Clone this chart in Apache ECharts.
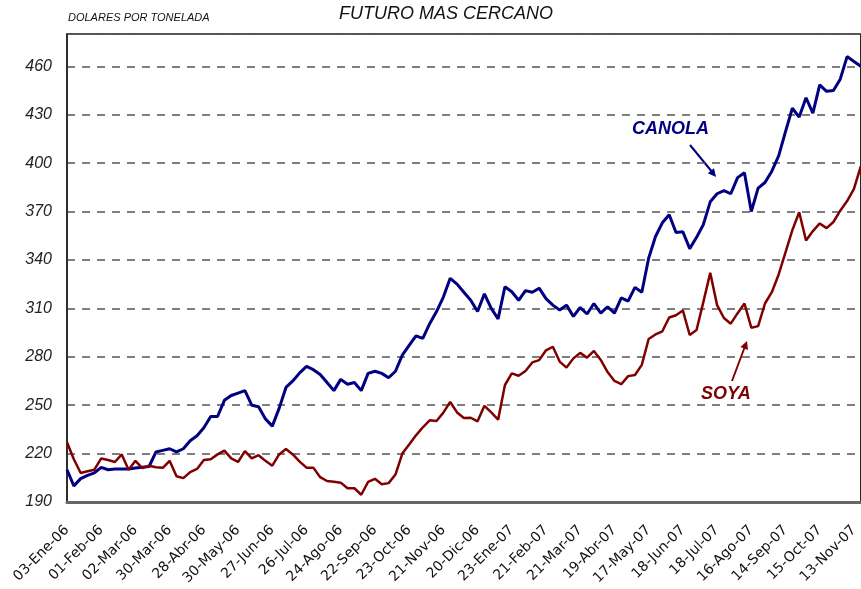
<!DOCTYPE html>
<html>
<head>
<meta charset="utf-8">
<script src="https://cdn.jsdelivr.net/npm/echarts@6/dist/echarts.min.js"></script>
<style>html,body{margin:0;padding:0;background:#fff}#c{width:861px;height:589px}</style>
</head>
<body>
<div id="c"></div>
<script>
// Tick labels, one every 20 trading days (5 points of 4 trading days)
const tickLabels = ['03-Ene-06','01-Feb-06','02-Mar-06','30-Mar-06','28-Abr-06','30-May-06','27-Jun-06','26-Jul-06','24-Ago-06','22-Sep-06','23-Oct-06','21-Nov-06','20-Dic-06','23-Ene-07','21-Feb-07','21-Mar-07','19-Abr-07','17-May-07','18-Jun-07','18-Jul-07','16-Ago-07','14-Sep-07','15-Oct-07','13-Nov-07'];
const pointsPerLabel = 5;

// Nearest futures, USD per tonne, sampled every 4 trading days
const canola = [210,200,204.5,206.5,208,211.5,210,210.5,210.5,210.5,
  211,211.5,212,221,222,223,221,223,228,231,
  236,243,243,253,256,257.5,259,250,249,241.5,
  237,248,261,265,270,274,272,269,264,259,
  266,263,264,259,269.7,271,269.7,267,271,281,
  287,293,291.4,300.5,308,317,328.6,325,320,315,
  308,319,310,303.5,323.4,320.3,315,321,320,322.5,
  316,312,309,312,305,310.5,306.5,313,307,311,
  307,316.5,314.5,323,320,341,354.5,363,368,357,
  357.5,347,354,362,376,381,383,381,391,394,
  370,384.5,388,395,404.5,419.5,434,428.5,440.5,431,
  448.5,444.5,445,452,466,463,460];

const soya = [227,216.5,208,209,210,217,216,214.8,219.5,210,
  215.5,211,212.5,211.5,211.2,215.5,206,204.8,208.5,210.5,
  216,216.5,219.5,221.8,217,214.8,221.5,217,219,215.5,
  212.5,219.5,222.8,219.5,215,211.3,211.3,205.4,203,202.5,
  202,198.5,198.5,194.5,202.4,204.4,201,201.7,207,220,
  225.6,231.3,236.3,240.6,240.2,245.4,252,245.5,242,242.2,
  240,249.6,245.5,241,262.5,269.7,268.2,271.2,276.5,277.9,
  284,286.2,277,273.3,279,282.4,279.4,283.6,278,270.5,
  265,263,268,268.7,275,291,293.8,295.8,304.3,305.7,
  308.7,293.5,296.6,314,332,312,304,300.5,307,313,
  298,299,313,320,331,344.7,358.5,369.5,352,357.9,
  362.6,359.7,363.5,370.5,376.5,384,398];

const categories = canola.map((_, i) => String(i));

const chart = echarts.init(document.getElementById('c'), null, {renderer: 'canvas'});
const FONT = '"Liberation Sans", Arial, sans-serif';

chart.setOption({
  animation: false,
  backgroundColor: '#fff',
  title: {
    text: 'FUTURO MAS CERCANO',
    left: 334, top: 0,
    textStyle: {fontFamily: FONT, fontSize: 18, fontStyle: 'italic', fontWeight: 'normal', color: '#111'}
  },
  grid: {left: 67, right: -1, top: 34, bottom: 87, show: true, borderColor: '#222', borderWidth: 1.5, backgroundColor: 'transparent'},
  xAxis: {
    type: 'category',
    data: categories,
    boundaryGap: false,
    axisTick: {show: false},
    axisLine: {lineStyle: {color: '#666', width: 3}},
    axisLabel: {
      interval: pointsPerLabel - 1,
      rotate: 45,
      margin: 26,
      fontFamily: '"DejaVu Sans", sans-serif',
      fontSize: 14,
      color: '#111',
      formatter: (v, idx) => (idx % pointsPerLabel === 0 ? tickLabels[idx / pointsPerLabel] : '')
    },
    splitLine: {show: false}
  },
  yAxis: {
    type: 'value',
    min: 190, max: 480, interval: 30,
    axisLine: {show: true, lineStyle: {color: '#222', width: 1.5}},
    axisTick: {show: false},
    axisLabel: {
      showMaxLabel: false,
      margin: 15,
      fontFamily: FONT, fontSize: 16, fontStyle: 'italic', color: '#222'
    },
    splitLine: {show: true, lineStyle: {color: '#555', width: 1.5, type: [8, 7]}}
  },
  series: [
    {name: 'CANOLA', type: 'line', data: canola, showSymbol: false, symbol: 'none',
      lineStyle: {color: '#000080', width: 3}, itemStyle: {color: '#000080'}},
    {name: 'SOYA', type: 'line', data: soya, showSymbol: false, symbol: 'none',
      lineStyle: {color: '#800000', width: 2.5}, itemStyle: {color: '#800000'}}
  ],
  graphic: [
    {type: 'text', left: 68, top: 12, style: {text: 'DOLARES POR TONELADA', font: 'italic 11px ' + FONT, fill: '#111'}},
    {type: 'text', left: 632, top: 120, style: {text: 'CANOLA', font: 'italic bold 18px ' + FONT, fill: '#000080'}},
    {type: 'line', shape: {x1: 690, y1: 145, x2: 713, y2: 173}, style: {stroke: '#000080', lineWidth: 2}},
    {type: 'polygon', shape: {points: [[716, 177], [707.8, 173.3], [714, 168.3]]}, style: {fill: '#000080'}},
    {type: 'text', left: 701, top: 385, style: {text: 'SOYA', font: 'italic bold 18px ' + FONT, fill: '#800000'}},
    {type: 'line', shape: {x1: 732, y1: 381, x2: 745.5, y2: 345}, style: {stroke: '#800000', lineWidth: 2}},
    {type: 'polygon', shape: {points: [[747, 341], [748, 350], [740.4, 347.1]]}, style: {fill: '#800000'}}
  ]
});
</script>
</body>
</html>
